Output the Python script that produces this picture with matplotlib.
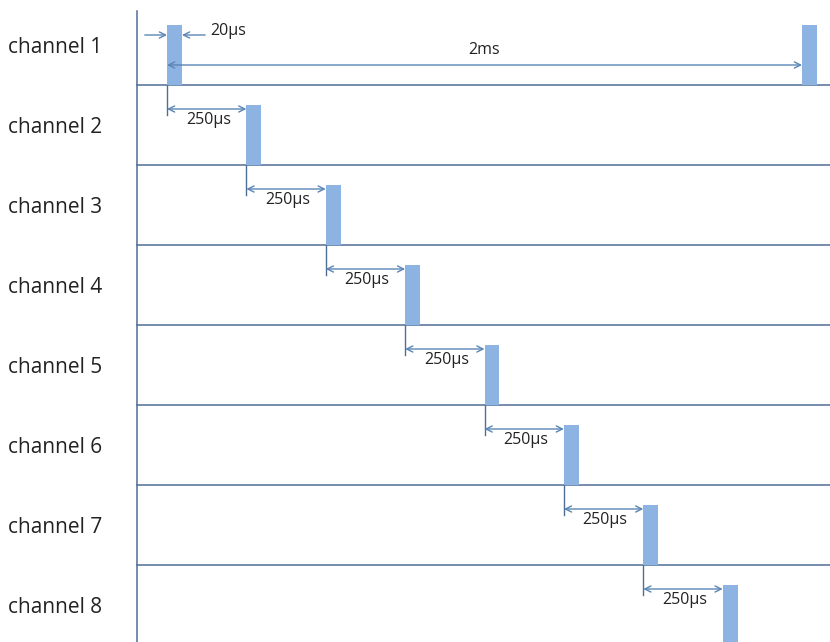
import matplotlib.pyplot as plt

# channel names and pulse start times (microseconds)
channels = ["channel 1", "channel 2", "channel 3", "channel 4",
            "channel 5", "channel 6", "channel 7", "channel 8"]
pulse_start_us = [0, 250, 500, 750, 1000, 1250, 1500, 1750]
period_us = 2000
gap_label = "250µs"
width_label = "20µs"
period_label = "2ms"

bar_color = "#8db3e2"
line_color = "#4f6f96"
arrow_color = "#5a85b5"
text_color = "#222222"

# drawing sizes (pulse width is drawn wider than true scale)
draw_width = 47
bar_height = 0.75

fig = plt.figure(figsize=(8.3, 6.42), dpi=100)
ax = fig.add_axes([0, 0, 1, 1])
ax.set_xlim(-526, 2088)
ax.set_ylim(7.9625, -0.0625)
ax.axis("off")

axis_x = -94.5
ax.plot([axis_x, axis_x], [0.075, 8.0], color=line_color, lw=1.1)

for i, (name, t0) in enumerate(zip(channels, pulse_start_us)):
    base = i + 1
    ax.text(-501, base - 0.47, name, fontsize=15, color=text_color,
            family="Open Sans", va="center", ha="left")
    ax.plot([axis_x, 2100], [base, base], color=line_color, lw=1.1)
    ax.bar(t0, bar_height, width=draw_width, bottom=base - bar_height,
           align="edge", color=bar_color, zorder=3)

# second pulse on channel 1 one period later
ax.bar(pulse_start_us[0] + period_us, bar_height, width=draw_width,
       bottom=1 - bar_height, align="edge", color=bar_color, zorder=3)

# 250us gaps between successive channels
for i in range(len(pulse_start_us) - 1):
    base = i + 1
    t0 = pulse_start_us[i]
    t1 = pulse_start_us[i + 1]
    ax.plot([t0, t0], [base, base + 0.375], color=line_color, lw=1.0)
    ax.annotate("", xy=(t1, base + 0.3), xytext=(t0, base + 0.3),
                arrowprops=dict(arrowstyle="<->", color=arrow_color, lw=1.0,
                                shrinkA=0, shrinkB=0, mutation_scale=11))
    ax.text((t0 + t1) / 2 + 5, base + 0.44, gap_label, fontsize=11.5,
            color=text_color, family="Open Sans", ha="center", va="center")

# pulse width markers
ax.annotate("", xy=(0, 0.375), xytext=(-70, 0.375),
            arrowprops=dict(arrowstyle="->", color=arrow_color, lw=1.0,
                            shrinkA=0, shrinkB=0, mutation_scale=11))
ax.annotate("", xy=(draw_width, 0.375), xytext=(120, 0.375),
            arrowprops=dict(arrowstyle="->", color=arrow_color, lw=1.0,
                            shrinkA=0, shrinkB=0, mutation_scale=11))
ax.text(135, 0.33, width_label, fontsize=11.5, color=text_color,
        family="Open Sans", ha="left", va="center")

# period marker
ax.annotate("", xy=(period_us, 0.75), xytext=(0, 0.75),
            arrowprops=dict(arrowstyle="<->", color=arrow_color, lw=1.0,
                            shrinkA=0, shrinkB=0, mutation_scale=11))
ax.text(period_us / 2, 0.56, period_label, fontsize=11.5, color=text_color,
        family="Open Sans", ha="center", va="center")

fig.savefig("out.png", dpi=100)
